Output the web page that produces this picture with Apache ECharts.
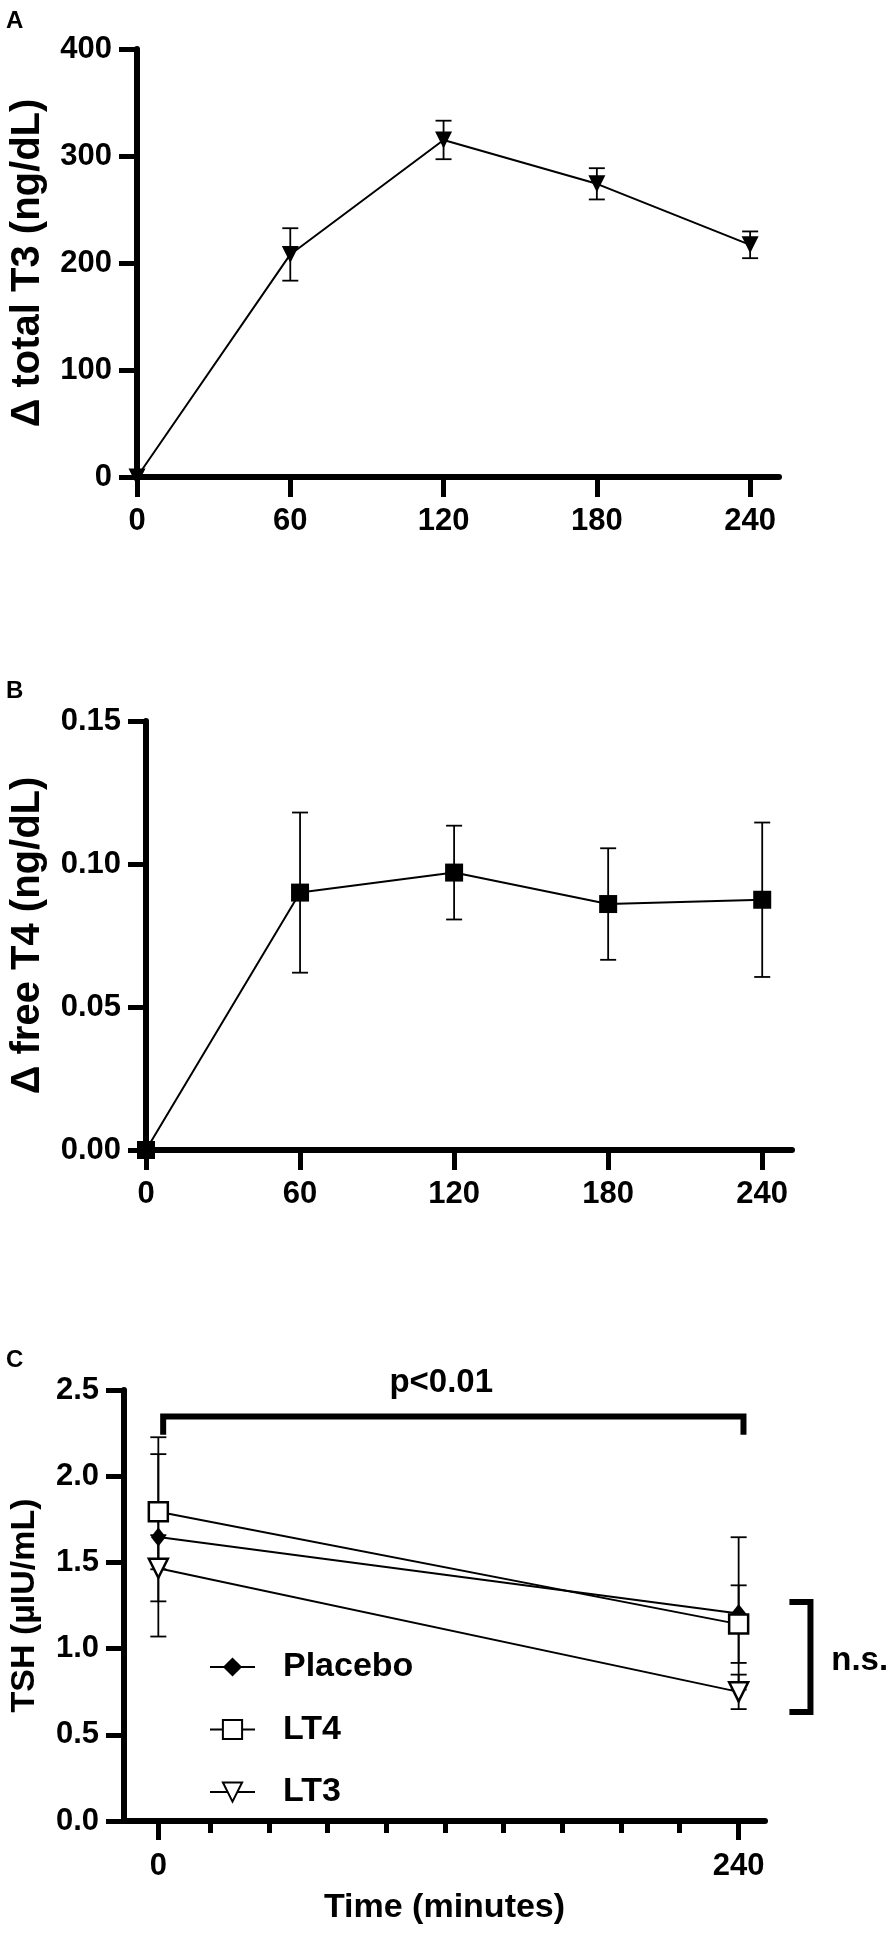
<!DOCTYPE html>
<html>
<head>
<meta charset="utf-8">
<script src="https://cdn.jsdelivr.net/npm/echarts@6.0.0/dist/echarts.min.js"></script>
<style>
html,body{margin:0;padding:0;background:#fff;}
#main{width:890px;height:1935px;}
</style>
</head>
<body>
<div id="main"></div>
<script>
// time points (minutes)
var timesAB = [0, 60, 120, 180, 240];
var timesC = [0, 240];

// A: change in total T3 (ng/dL), mean and error
var t3Mean = [0, 208, 315, 274, 217];
var t3Err = [0, 24.5, 18, 14.6, 12.5];

// B: change in free T4 (ng/dL)
var ft4Mean = [0, 0.090, 0.097, 0.086, 0.0875];
var ft4Err = [0, 0.028, 0.0164, 0.0195, 0.027];

// C: TSH (µIU/mL)
var placeboMean = [1.648, 1.204];
var placeboErr = [0.578, 0.442];
var lt4Mean = [1.794, 1.142];
var lt4Err = [0.334, 0.225];
var lt3Mean = [1.466, 0.749];
var lt3Err = [0.192, 0.10];

// tick values
var xTicksAB = [0, 60, 120, 180, 240];
var xMajorC = [0, 240];
var xMinorC = [24, 48, 72, 96, 120, 144, 168, 192, 216];

var FONT = '"Liberation Sans", Arial, sans-serif';

function pairs(xs, ys) {
	var out = [];
	for (var i = 0; i < xs.length; i++) out.push([xs[i], ys[i]]);
	return out;
}
function withErr(xs, ys, es) {
	var out = [];
	for (var i = 0; i < xs.length; i++) out.push([xs[i], ys[i], es[i]]);
	return out;
}

// vertical error bar with caps
function renderError(params, api) {
	var x = api.value(0), y = api.value(1), e = api.value(2);
	if (!e) return null;
	var hi = api.coord([x, y + e]);
	var lo = api.coord([x, y - e]);
	var w = 8;
	var st = {stroke: '#000', lineWidth: 1.8};
	return {
		type: 'group',
		children: [
			{type: 'line', shape: {x1: hi[0], y1: hi[1], x2: lo[0], y2: lo[1]}, style: st},
			{type: 'line', shape: {x1: hi[0] - w, y1: hi[1], x2: hi[0] + w, y2: hi[1]}, style: st},
			{type: 'line', shape: {x1: lo[0] - w, y1: lo[1], x2: lo[0] + w, y2: lo[1]}, style: st}
		]
	};
}

// brackets and p-value labels for panel C
function renderNotes(params, api) {
	var st = {stroke: '#000', lineWidth: 6, fill: null};
	var a = api.coord([2, 2.24]), b = api.coord([2, 2.346]);
	var c = api.coord([242, 2.346]), d = api.coord([242, 2.24]);
	var e = api.coord([261, 1.27]), f = api.coord([269.7, 1.27]);
	var g = api.coord([269.7, 0.632]), h = api.coord([261, 0.632]);
	var p = api.coord([117, 2.539]);
	var n = api.coord([278.3, 0.926]);
	var tfont = 'bold 33px ' + FONT;
	return {
		type: 'group',
		children: [
			{type: 'polyline', shape: {points: [a, b, c, d]}, style: st},
			{type: 'polyline', shape: {points: [e, f, g, h]}, style: st},
			{type: 'text', style: {text: 'p<0.01', x: p[0], y: p[1], align: 'center', verticalAlign: 'middle', font: tfont, fill: '#000'}},
			{type: 'text', style: {text: 'n.s.', x: n[0], y: n[1], align: 'left', verticalAlign: 'middle', font: tfont, fill: '#000'}}
		]
	};
}

function xAxisBase(grid, min, max) {
	return {
		type: 'value', gridIndex: grid, min: min, max: max,
		splitLine: {show: false},
		axisLine: {show: true, onZero: false, lineStyle: {color: '#000', width: 6}},
		axisTick: {show: true, length: 20, lineStyle: {color: '#000', width: 5}},
		axisLabel: {show: true, margin: 29, color: '#000', fontSize: 31, fontWeight: 'bold', fontFamily: FONT}
	};
}
function yAxisBase(grid, min, max, interval, name, gap, size, digits) {
	return {
		type: 'value', gridIndex: grid, min: min, max: max, interval: interval,
		name: name, nameLocation: 'middle', nameRotate: 90, nameGap: gap,
		nameTextStyle: {color: '#000', fontSize: size, fontWeight: 'bold', fontFamily: FONT},
		splitLine: {show: false},
		axisLine: {show: true, onZero: false, lineStyle: {color: '#000', width: 6}},
		axisTick: {show: true, length: 18, lineStyle: {color: '#000', width: 5}},
		axisLabel: {
			margin: 25, color: '#000', fontSize: 31, fontWeight: 'bold', fontFamily: FONT,
			formatter: function (v) { return v.toFixed(digits); }
		}
	};
}

var xA = xAxisBase(0, 0, 251.3);
xA.axisTick.customValues = xTicksAB;
xA.axisLabel.customValues = xTicksAB;
var xB = xAxisBase(1, 0, 251.6);
xB.axisTick.customValues = xTicksAB;
xB.axisLabel.customValues = xTicksAB;
var xC = xAxisBase(2, -14.2, 250.9);
xC.axisTick.customValues = xMajorC;
xC.axisTick.length = 19;
xC.axisLabel.customValues = xMajorC;
xC.axisLabel.margin = 30;
xC.name = 'Time (minutes)';
xC.nameLocation = 'middle';
xC.nameGap = 70;
xC.nameTextStyle = {color: '#000', fontSize: 34, fontWeight: 'bold', fontFamily: FONT};
// minor ticks of panel C, on an overlapping grid
var xCminor = xAxisBase(3, -14.2, 250.9);
xCminor.axisLine.show = false;
xCminor.axisLabel.show = false;
xCminor.axisTick.customValues = xMinorC;
xCminor.axisTick.length = 12;

var ySym = {color: '#000'};
var yOpen = {color: '#fff', borderColor: '#000', borderWidth: 2.5};
var lineSt = {color: '#000', width: 2};

var option = {
	animation: false,
	backgroundColor: '#fff',
	title: [
		{text: 'A', left: 1, top: 4, textStyle: {fontSize: 24, fontWeight: 'bold', fontFamily: FONT, color: '#000'}},
		{text: 'B', left: 1, top: 674, textStyle: {fontSize: 24, fontWeight: 'bold', fontFamily: FONT, color: '#000'}},
		{text: 'C', left: 1, top: 1343, textStyle: {fontSize: 24, fontWeight: 'bold', fontFamily: FONT, color: '#000'}}
	],
	grid: [
		{left: 133, top: 49, width: 646, height: 428},
		{left: 142, top: 721, width: 650, height: 429},
		{left: 117, top: 1390, width: 648, height: 431},
		{left: 117, top: 1390, width: 648, height: 431}
	],
	legend: {
		orient: 'vertical', left: 204, top: 1642,
		itemWidth: 45, itemHeight: 24, itemGap: 22.5,
		selectedMode: false,
		textStyle: {color: '#000', fontSize: 34, fontWeight: 'bold', fontFamily: FONT, lineHeight: 40, padding: [0, 0, 0, 23]},
		data: ['Placebo', 'LT4', 'LT3']
	},
	xAxis: [xA, xB, xC, xCminor],
	yAxis: [
		yAxisBase(0, 0, 400, 100, '\u0394 total T3 (ng/dL)', 89, 40, 0),
		yAxisBase(1, 0, 0.15, 0.05, '\u0394 free T4 (ng/dL)', 98, 40, 2),
		yAxisBase(2, 0, 2.5, 0.5, 'TSH (\u00b5IU/mL)', 82, 34, 1),
		{type: 'value', gridIndex: 3, min: 0, max: 1, show: false}
	],
	series: [
		{type: 'custom', xAxisIndex: 0, yAxisIndex: 0, renderItem: renderError, encode: {x: 0, y: 1}, data: withErr(timesAB, t3Mean, t3Err), z: 1},
		{type: 'line', xAxisIndex: 0, yAxisIndex: 0, data: pairs(timesAB, t3Mean), symbol: 'triangle', symbolRotate: 180, symbolSize: 17, itemStyle: ySym, lineStyle: lineSt, z: 3},

		{type: 'custom', xAxisIndex: 1, yAxisIndex: 1, renderItem: renderError, encode: {x: 0, y: 1}, data: withErr(timesAB, ft4Mean, ft4Err), z: 1},
		{type: 'line', xAxisIndex: 1, yAxisIndex: 1, data: pairs(timesAB, ft4Mean), symbol: 'rect', symbolSize: 18, itemStyle: ySym, lineStyle: lineSt, z: 3},

		{type: 'custom', xAxisIndex: 2, yAxisIndex: 2, renderItem: renderError, encode: {x: 0, y: 1}, data: withErr(timesC, placeboMean, placeboErr), z: 1},
		{type: 'custom', xAxisIndex: 2, yAxisIndex: 2, renderItem: renderError, encode: {x: 0, y: 1}, data: withErr(timesC, lt4Mean, lt4Err), z: 1},
		{type: 'custom', xAxisIndex: 2, yAxisIndex: 2, renderItem: renderError, encode: {x: 0, y: 1}, data: withErr(timesC, lt3Mean, lt3Err), z: 1},
		{name: 'Placebo', type: 'line', xAxisIndex: 2, yAxisIndex: 2, data: pairs(timesC, placeboMean), symbol: 'diamond', symbolSize: [15, 19], itemStyle: ySym, lineStyle: lineSt, z: 3},
		{name: 'LT4', type: 'line', xAxisIndex: 2, yAxisIndex: 2, data: pairs(timesC, lt4Mean), symbol: 'rect', symbolSize: 19, itemStyle: yOpen, lineStyle: lineSt, z: 3},
		{name: 'LT3', type: 'line', xAxisIndex: 2, yAxisIndex: 2, data: pairs(timesC, lt3Mean), symbol: 'triangle', symbolRotate: 180, symbolSize: 19, itemStyle: yOpen, lineStyle: lineSt, z: 3},
		{type: 'custom', xAxisIndex: 2, yAxisIndex: 2, renderItem: renderNotes, clip: false, data: [[0, 0]], z: 4}
	]
};

var chart = echarts.init(document.getElementById('main'));
chart.setOption(option);
</script>
</body>
</html>
